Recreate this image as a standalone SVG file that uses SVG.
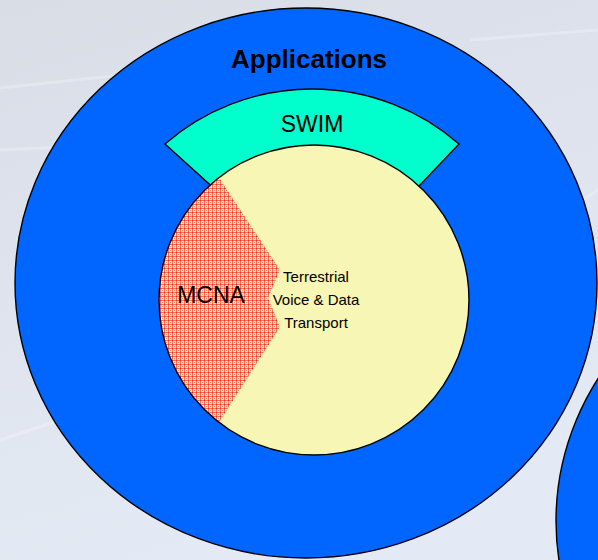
<svg xmlns="http://www.w3.org/2000/svg" width="598" height="560" viewBox="0 0 598 560">
  <defs>
    <linearGradient id="bg" x1="0" y1="0" x2="0.3" y2="1">
      <stop offset="0" stop-color="#d9dde6"/>
      <stop offset="1" stop-color="#e4eaf5"/>
    </linearGradient>
    <!-- fine red grid used for the MCNA wedge -->
    <pattern id="redGrid" width="4" height="4" patternUnits="userSpaceOnUse">
      <rect width="4" height="4" fill="#fbe3a0"/>
      <rect x="0" y="0" width="4" height="1" fill="#f2705c"/>
      <rect x="0" y="0" width="1" height="4" fill="#f2705c"/>
      <rect x="0" y="0" width="1" height="1" fill="#e62a24"/>
      <rect x="2" y="2" width="1" height="1" fill="#f59670"/>
    </pattern>
    <clipPath id="coreClip">
      <circle cx="314" cy="300" r="155"/>
    </clipPath>
    <style>
      .edge { stroke: #000; stroke-width: 1.4; }
      .lbl { font-family: "Liberation Sans", Arial, sans-serif; fill: #000; text-anchor: middle; }
    </style>
  </defs>

  <!-- backdrop -->
  <rect width="598" height="560" fill="url(#bg)"/>
  <g stroke="#f4f6fb" stroke-opacity="0.35" stroke-width="3" fill="none">
    <path d="M0 88 L260 60"/>
    <path d="M0 150 L220 140"/>
    <path d="M470 40 L598 30"/>
    <path d="M0 440 L60 420"/>
    <path d="M520 240 L598 190"/>
  </g>

  <!-- outer applications ring -->
  <g id="applications">
    <ellipse cx="306" cy="283" rx="291" ry="275" fill="#0066ff" class="edge"/>
    <text class="lbl" x="309" y="68" font-size="26" font-weight="bold">Applications</text>
  </g>

  <!-- neighbouring ring, lower right -->
  <g id="neighbour">
    <ellipse cx="847" cy="521" rx="291" ry="275" fill="#0066ff" class="edge"/>
  </g>

  <!-- SWIM band -->
  <g id="swim">
    <path d="M165 144 A224 224 0 0 1 459 144 L401 205 L228 201 Z" fill="#00ffcc" class="edge"/>
    <text class="lbl" x="312" y="132" font-size="23">SWIM</text>
  </g>

  <!-- terrestrial transport core -->
  <g id="transport">
    <circle cx="314" cy="300" r="155" fill="#f8f6b4"/>
    <text class="lbl" x="316" y="282" font-size="15">Terrestrial</text>
    <text class="lbl" x="316" y="305" font-size="15">Voice &amp; Data</text>
    <text class="lbl" x="316" y="328" font-size="15">Transport</text>
  </g>

  <!-- MCNA wedge on the left of the core, clipped to the core -->
  <g id="mcna">
    <path d="M214 170 L280 270 L268 298 L280 327 L214 430 L140 430 L140 170 Z" fill="url(#redGrid)" clip-path="url(#coreClip)"/>
    <text class="lbl" x="211" y="303" font-size="23">MCNA</text>
  </g>

  <!-- core outline drawn over the wedge -->
  <circle cx="314" cy="300" r="155" fill="none" class="edge"/>
</svg>
